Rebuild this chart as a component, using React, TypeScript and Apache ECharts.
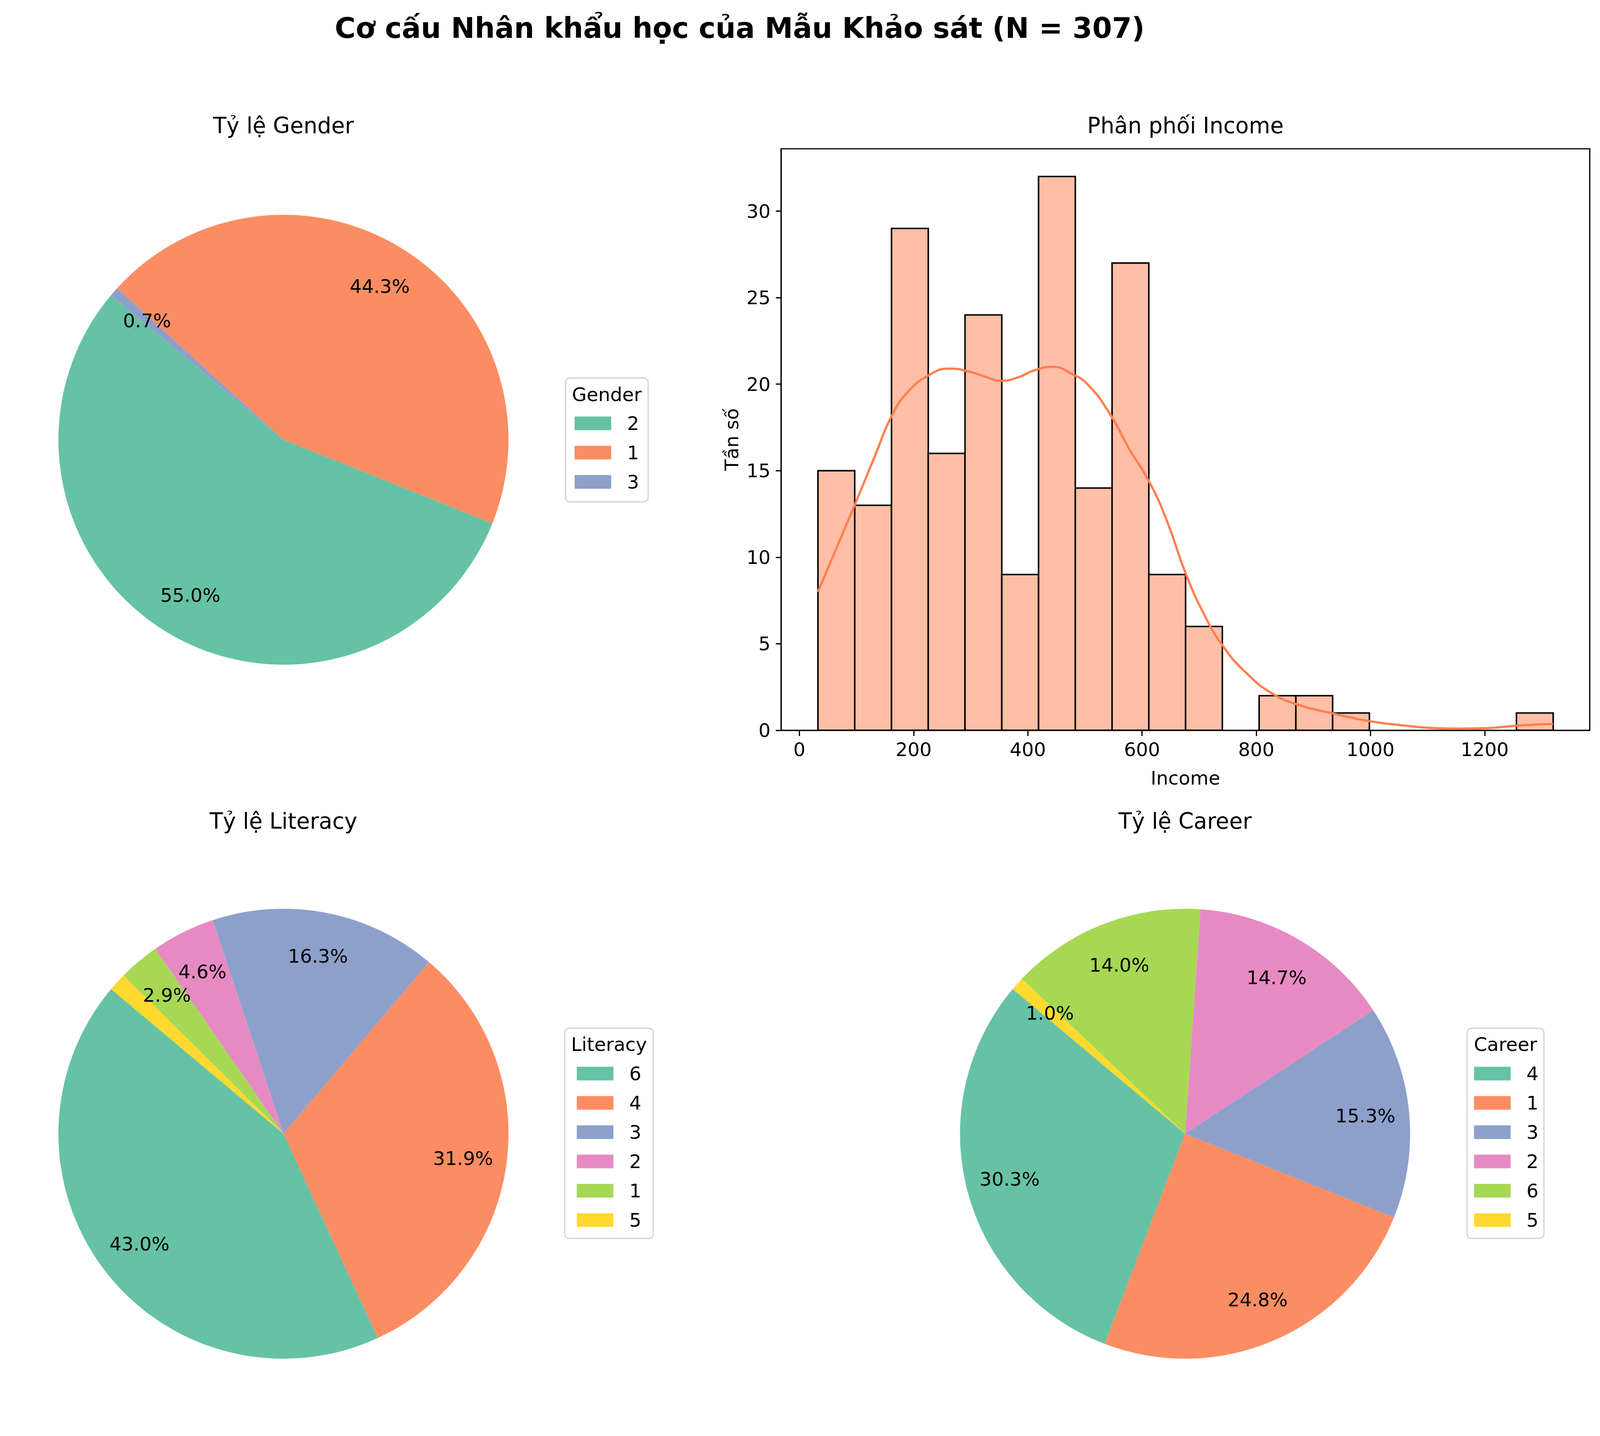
import React, { useEffect, useRef } from 'react';
import * as echarts from 'echarts';

const FONT = 'DejaVu Sans';
const SET2 = ['#66c2a5', '#fc8d62', '#8da0cb', '#e78ac3', '#a6d854', '#ffd92f'];

// ---- data ----
const genderCategories = ['2', '1', '3'];
const genderCounts = [169, 136, 2];
const literacyCategories = ['6', '4', '3', '2', '1', '5'];
const literacyCounts = [132, 98, 50, 14, 9, 4];
const careerCategories = ['4', '1', '3', '2', '6', '5'];
const careerCounts = [93, 76, 47, 45, 43, 3];

const incomeBinMin = 32.5;
const incomeBinMax = 1320;
const incomeCounts = [15, 13, 29, 16, 24, 9, 32, 14, 27, 9, 6, 0, 2, 2, 1, 0, 0, 0, 0, 1];
const kdeIncome = [32.5, 96.6, 132.8, 160.7, 188.5, 225.7, 262.8, 300, 327.9, 353, 383.6, 411.4, 443.9, 476.5, 504.3, 541.5, 578.6, 612, 643.6, 676, 708.7, 741, 783, 829.4, 875.8, 933.4, 996.6, 1061.6, 1117.3, 1154.5, 1200.9, 1256.6, 1319.8];
const kdeCount = [8.0, 13.0, 15.9, 18.1, 19.5, 20.5, 20.9, 20.7, 20.4, 20.2, 20.4, 20.8, 21.0, 20.6, 20.0, 18.4, 16.2, 14.4, 12.1, 9.1, 6.7, 4.9, 3.3, 2.1, 1.45, 0.98, 0.54, 0.27, 0.12, 0.10, 0.12, 0.27, 0.37];
const incomeTicks = [0, 200, 400, 600, 800, 1000, 1200];
const countTicks = [0, 5, 10, 15, 20, 25, 30];

const SUPTITLE = 'Cơ cấu Nhân khẩu học của Mẫu Khảo sát (N = 307)';

const REF_W = 4369;
const REF_H = 3677;

export default function App() {
  const ref = useRef<HTMLDivElement>(null);
  useEffect(() => {
    const el = ref.current;
    if (!el) return;
    const vw = window.innerWidth || REF_W;
    const vh = window.innerHeight || REF_H;
    const sx = vw / REF_W;
    const sy = vh / REF_H;
    const sm = Math.sqrt(sx * sy);
    el.style.width = vw + 'px';
    el.style.height = vh + 'px';
    const M = (v: number) => v * sm; // sizes (fonts, radii, strokes)
    const X = (v: number) => v * sx;
    const Y = (v: number) => v * sy;

    const chart = echarts.init(el, undefined, { renderer: 'svg' });

    function pieSeries(key: string, cats: string[], counts: number[], cx: number, cy: number, r: number) {
      const total = counts.reduce((a, b) => a + b, 0);
      const data = cats.map((c, i) => ({ name: key + '|' + c, value: counts[i], itemStyle: { color: SET2[i] } }));
      return [
        {
          type: 'pie',
          center: [X(cx), Y(cy)],
          radius: [0, M(r)],
          startAngle: 140,
          clockwise: false,
          avoidLabelOverlap: false,
          silent: true,
          data,
          label: { show: false },
          labelLine: { show: false },
          itemStyle: { borderWidth: 0 },
          z: 2,
        },
        {
          type: 'pie',
          center: [X(cx), Y(cy)],
          radius: [M(0.6 * r), M(r)],
          startAngle: 140,
          clockwise: false,
          avoidLabelOverlap: false,
          silent: true,
          data: data.map((d) => ({ name: d.name, value: d.value, itemStyle: { color: 'rgba(0,0,0,0)' } })),
          label: {
            show: true,
            position: 'inside',
            formatter: (p: any) => ((p.value / total) * 100).toFixed(1) + '%',
            fontSize: M(50),
            fontFamily: FONT,
            color: '#000',
          },
          labelLine: { show: false },
          itemStyle: { borderWidth: 0 },
          z: 3,
        },
      ];
    }

    function legendCfg(key: string, cats: string[], left: number, firstCenter: number) {
      return {
        orient: 'vertical',
        left: X(left),
        top: Y(firstCenter - 25),
        itemWidth: X(100),
        itemHeight: Y(35),
        itemGap: Y(25),
        padding: 0,
        icon: 'rect',
        selectedMode: false,
        data: cats.map((c) => key + '|' + c),
        formatter: (n: string) => n.split('|')[1],
        textStyle: { fontSize: M(50), lineHeight: Y(50), fontFamily: FONT, color: '#000', padding: [0, 0, 0, X(38)] },
        itemStyle: { borderWidth: 0 },
        z: 5,
      };
    }

    function txt(text: string, x: number, y: number, size: number, weight: string = 'normal') {
      return {
        type: 'text',
        x: X(x),
        y: Y(y),
        z: 6,
        silent: true,
        style: {
          text,
          fill: '#000',
          fontSize: M(size),
          fontFamily: FONT,
          fontWeight: weight,
          align: 'center',
          verticalAlign: 'middle',
          textAlign: 'center',
          textVerticalAlign: 'middle',
        },
      };
    }

    function box(x: number, y: number, w: number, h: number) {
      return {
        type: 'rect',
        z: 1,
        silent: true,
        shape: { x: X(x), y: Y(y), width: X(w), height: Y(h), r: M(12) },
        style: { fill: '#ffffff', stroke: '#d6d6d6', lineWidth: M(3.5) },
      };
    }

    const binW = (incomeBinMax - incomeBinMin) / incomeCounts.length;
    const histData = incomeCounts
      .map((c, i) => [incomeBinMin + i * binW, incomeBinMin + (i + 1) * binW, c])
      .filter((d) => d[2] > 0);

    const axisCommon = {
      axisLine: { show: true, onZero: false, lineStyle: { color: '#000', width: M(3.3) } },
      splitLine: { show: false },
      nameLocation: 'middle',
      nameTextStyle: { fontSize: M(50), fontFamily: FONT, color: '#000' },
    };

    const option: any = {
      animation: false,
      backgroundColor: '#ffffff',
      textStyle: { fontFamily: FONT },
      graphic: [
        txt(SUPTITLE, 2020, 72, 75, 'bold'),
        txt('Tỷ lệ Gender', 774, 321, 58),
        txt('Phân phối Income', 3237, 321, 58),
        txt('Tỷ lệ Literacy', 774, 2102, 58),
        txt('Tỷ lệ Career', 3236, 2102, 58),
        box(1544, 968, 226, 317),
        txt('Gender', 1657, 1010, 50),
        box(1542, 2633, 242, 538),
        txt('Literacy', 1663, 2674, 50),
        box(4006, 2633, 210, 538),
        txt('Career', 4111, 2674, 50),
      ],
      legend: [
        legendCfg('g', genderCategories, 1569, 1084),
        legendCfg('l', literacyCategories, 1575, 2749),
        legendCfg('c', careerCategories, 4025, 2749),
      ],
      grid: {
        left: X(2133),
        top: Y(381),
        width: X(2208),
        height: Y(1489),
        show: true,
        borderColor: '#000',
        borderWidth: M(3.3),
        backgroundColor: 'rgba(0,0,0,0)',
        containLabel: false,
      },
      xAxis: {
        ...axisCommon,
        type: 'value',
        min: -32,
        max: 1384,
        axisTick: { show: true, length: Y(14.6), lineStyle: { color: '#000', width: M(3.3) }, customValues: incomeTicks },
        axisLabel: {
          customValues: incomeTicks,
          formatter: (v: number) => String(v),
          fontSize: M(50),
          fontFamily: FONT,
          color: '#000',
          margin: Y(25),
        },
        name: 'Income',
        nameGap: Y(98),
      },
      yAxis: {
        ...axisCommon,
        type: 'value',
        min: 0,
        max: 33.6,
        axisTick: { show: true, length: X(14.6), lineStyle: { color: '#000', width: M(3.3) }, customValues: countTicks },
        axisLabel: {
          customValues: countTicks,
          formatter: (v: number) => String(v),
          fontSize: M(50),
          fontFamily: FONT,
          color: '#000',
          margin: X(29),
        },
        name: 'Tần số',
        nameGap: X(110),
      },
      series: [
        {
          type: 'custom',
          silent: true,
          data: histData,
          encode: { x: [0, 1], y: 2 },
          renderItem: (params: any, api: any) => {
            const p0 = api.coord([api.value(0), api.value(2)]);
            const p1 = api.coord([api.value(1), 0]);
            return {
              type: 'rect',
              shape: { x: p0[0], y: p0[1], width: p1[0] - p0[0], height: p1[1] - p0[1] },
              style: { fill: '#ffbea6', stroke: '#000', lineWidth: M(4) },
            };
          },
          z: 2,
        },
        {
          type: 'line',
          silent: true,
          data: kdeIncome.map((x, i) => [x, kdeCount[i]]),
          smooth: 0.5,
          showSymbol: false,
          symbol: 'none',
          lineStyle: { color: '#ff7f50', width: M(6) },
          z: 3,
        },
        ...pieSeries('g', genderCategories, genderCounts, 774, 1126, 595),
        ...pieSeries('l', literacyCategories, literacyCounts, 774, 2903, 595),
        ...pieSeries('c', careerCategories, careerCounts, 3236, 2903, 595),
      ],
    };
    chart.setOption(option);
    return () => chart.dispose();
  }, []);
  return (
    <div
      ref={ref}
      style={{ position: 'fixed', left: 0, top: 0, width: REF_W, height: REF_H, background: '#fff' }}
    />
  );
}
